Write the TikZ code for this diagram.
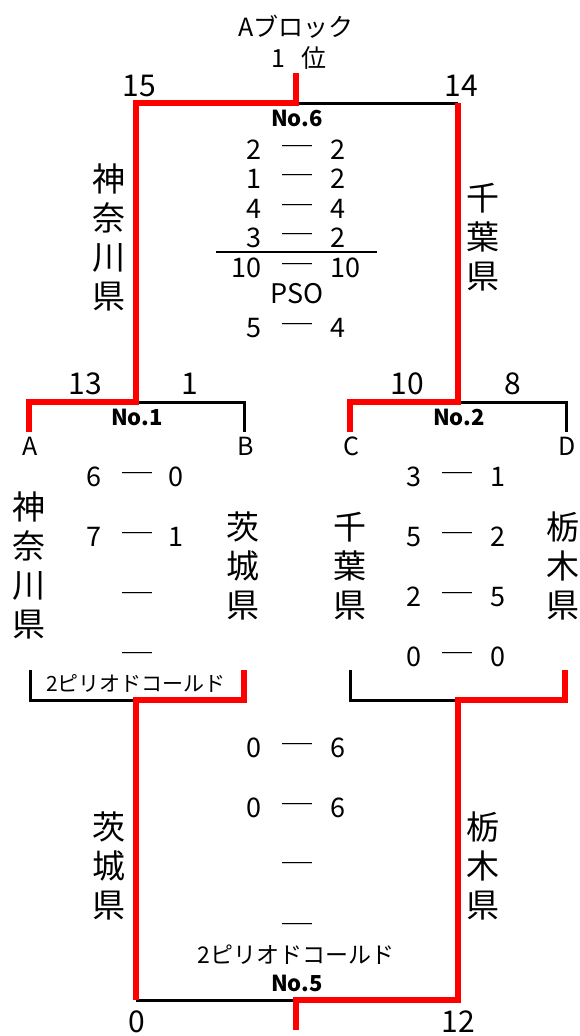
\documentclass[tikz,border=0pt]{standalone}
\usepackage{fontspec}
\setmainfont{Noto Sans CJK JP}
\usepackage{tikz}

\tikzset{
  win/.style={draw=bracketred, line width=6.5pt},
  lose/.style={draw=black, line width=3pt},
  score/.style={font=\fontsize{27}{30}\selectfont, inner sep=0pt},
  sepbar/.style={font=\bfseries\fontsize{30}{30}\selectfont, inner sep=0pt, yshift=-1.5pt},
  seed/.style={font=\fontsize{30}{32}\selectfont, inner sep=0pt},
  pref/.style={font=\fontsize{33}{39}\selectfont, align=center, inner sep=0pt},
  gameno/.style={font=\bfseries\fontsize{22}{24}\selectfont, inner sep=0pt},
  team/.style={font=\fontsize{25}{27}\selectfont, inner sep=0pt},
  note/.style={font=\fontsize{21}{23}\selectfont, inner sep=0pt}
}

\begin{document}
\begin{tikzpicture}[x=1pt, y=-1pt]
    \definecolor{bracketred}{rgb}{1,0,0}
    \useasboundingbox (0,0) rectangle (580,1036);
    %bracket points
    \coordinate (top) at (296,73);
    \coordinate (fL) at (136,103);
    \coordinate (fM) at (296,103);
    \coordinate (fR) at (458,103);
    \coordinate (s1) at (136,402);
    \coordinate (s2) at (458,402);
    \coordinate (s1L) at (29,402);
    \coordinate (s1R) at (244,402);
    \coordinate (s2L) at (350,402);
    \coordinate (s2R) at (566,402);
    \coordinate (b1) at (136,700);
    \coordinate (b2) at (458,700);
    \coordinate (b1L) at (30,700);
    \coordinate (b1R) at (244,700);
    \coordinate (b2L) at (350,700);
    \coordinate (b2R) at (565,700);
    \coordinate (gL) at (136,1000);
    \coordinate (gM) at (296,1000);
    \coordinate (gR) at (458,1000);
    \coordinate (bottom) at (296,1030);
    %losing lines
    \draw[lose] (fM) -- (fR);
    \draw[lose] (s1) -- (s1R) -- ++(0,30);
    \draw[lose] (s2) -- (s2R) -- ++(0,30);
    \draw[lose] (b1L) ++(0,-30) -- (b1L) -- (b1);
    \draw[lose] (b2L) ++(0,-30) -- (b2L) -- (b2);
    \draw[lose] (gL) -- (gM);
    %winning lines
    \draw[win] (top) -- (fM) -- (fL) -- (s1) -- (s1L) -- ++(0,30);
    \draw[win] (fR) -- (s2) -- (s2L) -- ++(0,30);
    \draw[win] (b1R) ++(0,-30) -- (b1R) -- (b1) -- (gL);
    \draw[win] (b2R) ++(0,-30) -- (b2R) -- (b2) -- (gR) -- (gM) -- (bottom);

    %titles
    \node[team] (block) at (296,27) {Aブロック};
    \node[font=\fontsize{25}{27}\selectfont, inner sep=0pt] (rank) at (299,58) {1\hspace{17pt}位};
    \node[seed] (n15) at (139,86) {15};
    \node[seed] (n14) at (461,86) {14};
    \node[gameno] (no6) at (297,118) {No.6};
    %final scores
    \foreach \y/\l/\r [count=\i] in {150/2/2, 179/1/2, 209/4/4, 238/3/2, 268/10/10, 328/5/4} {
      \node[score, anchor=east] (f\i l) at (262,\y) {\l};
      \node[sepbar] (f\i d) at (297,\y) {─};
      \node[score, anchor=west] (f\i r) at (330,\y) {\r};
    }
    \draw[line width=2pt] (216,252) -- (377,252);
    \node[score] (pso) at (297,294) {PSO};
    \node[pref] (kanagawaF) at (109,237) {神\\奈\\川\\県};
    \node[pref] (chibaF) at (483,237) {千\\葉\\県};

    %first round
    \node[seed] (n13) at (85,384) {13};
    \node[seed] (n1) at (190,384) {1};
    \node[seed] (n10) at (407,384) {10};
    \node[seed] (n8) at (513,384) {8};
    \node[gameno] (no1) at (137,417) {No.1};
    \node[gameno] (no2) at (459,417) {No.2};
    \node[team] (ta) at (30,446) {A};
    \node[team] (tb) at (246,446) {B};
    \node[team] (tc) at (351,446) {C};
    \node[team] (td) at (567,446) {D};
    \foreach \y/\l/\r [count=\i] in {477/6/0, 537/7/1, 597//, 657//} {
      \node[score, anchor=east] (a\i l) at (102,\y) {\l};
      \node[sepbar] (a\i d) at (137,\y) {─};
      \node[score, anchor=west] (a\i r) at (168,\y) {\r};
    }
    \foreach \y/\l/\r [count=\i] in {477/3/1, 537/5/2, 597/2/5, 657/0/0} {
      \node[score, anchor=east] (c\i l) at (422,\y) {\l};
      \node[sepbar] (c\i d) at (457,\y) {─};
      \node[score, anchor=west] (c\i r) at (490,\y) {\r};
    }
    \node[pref] (kanagawaA) at (29,565) {神\\奈\\川\\県};
    \node[pref] (ibarakiB) at (243,566) {茨\\城\\県};
    \node[pref] (chibaC) at (350,566) {千\\葉\\県};
    \node[pref] (tochigiD) at (563,566) {栃\\木\\県};
    \node[note] (cold1) at (136,683) {2ピリオドコールド};

    %third place
    \foreach \y/\l/\r [count=\i] in {748/0/6, 808/0/6, 867//, 928//} {
      \node[score, anchor=east] (g\i l) at (262,\y) {\l};
      \node[sepbar] (g\i d) at (297,\y) {─};
      \node[score, anchor=west] (g\i r) at (330,\y) {\r};
    }
    \node[pref] (ibarakiG) at (109,866) {茨\\城\\県};
    \node[pref] (tochigiG) at (483,866) {栃\\木\\県};
    \node[font=\fontsize{23}{25}\selectfont, inner sep=0pt] (cold5) at (296,955) {2ピリオドコールド};
    \node[gameno] (no5) at (297,983) {No.5};
    \node[seed] (n0) at (137,1022) {0};
    \node[seed] (n12) at (458,1022) {12};
\end{tikzpicture}
\end{document}
